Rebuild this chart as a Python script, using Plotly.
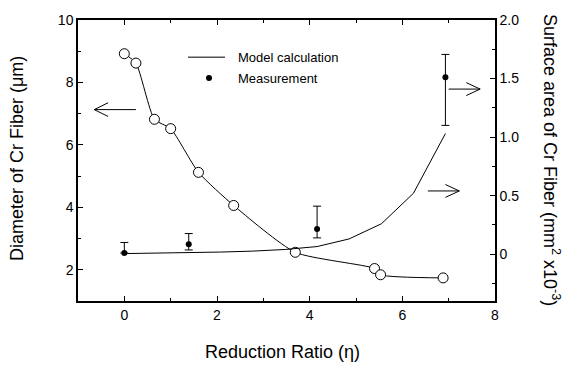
import plotly.graph_objects as go

# Diameter (left axis), open circles + model curve
diam_x = [0, 0.25, 0.65, 1.0, 1.6, 2.36, 3.69, 5.40, 5.53, 6.88]
diam_y = [8.92, 8.62, 6.82, 6.52, 5.12, 4.06, 2.56, 2.04, 1.84, 1.74]

# Surface area model (right axis)
area_model_x = [0, 0.69, 1.39, 2.08, 2.77, 3.47, 4.16, 4.85, 5.55, 6.24, 6.93]
area_model_y = [0.005, 0.008, 0.012, 0.018, 0.026, 0.04, 0.065, 0.13, 0.26, 0.52, 1.03]

# Measurements (right axis) with asymmetric error bars
meas_x = [0, 1.39, 4.16, 6.93]
meas_y = [0.01, 0.084, 0.214, 1.51]
meas_err_plus = [0.09, 0.092, 0.196, 0.196]
meas_err_minus = [0.0, 0.048, 0.075, 0.41]

x_ticks = [0, 2, 4, 6, 8]
y2_ticks = [0, 0.5, 1.0, 1.5, 2.0]
y2_labels = ["0", "0.5", "1.0", "1.5", "2.0"]

FONT = "Liberation Sans, Arial, sans-serif"

# plot-area pixel geometry
L, R, T, B = 78, 495, 14, 301
PW, PH = R - L, B - T

def px(xp):
    return (xp - L) / PW

def py(yp):
    return (B - yp) / PH

fig = go.Figure()

fig.add_trace(go.Scatter(
    x=diam_x, y=diam_y, mode="lines", line=dict(color="black", width=1, shape="spline", smoothing=0.6),
    showlegend=False, yaxis="y"))
fig.add_trace(go.Scatter(
    x=diam_x, y=diam_y, mode="markers",
    marker=dict(symbol="circle", size=10, color="white", line=dict(color="black", width=1)),
    showlegend=False, yaxis="y"))

fig.add_trace(go.Scatter(
    x=area_model_x, y=area_model_y, mode="lines", name="Model calculation",
    line=dict(color="black", width=1), yaxis="y2", showlegend=False))

fig.add_trace(go.Scatter(
    x=meas_x, y=meas_y, mode="markers", name="Measurement",
    marker=dict(symbol="circle", size=6, color="black"),
    error_y=dict(type="data", symmetric=False, array=meas_err_plus, arrayminus=meas_err_minus,
                 color="black", thickness=1, width=4),
    yaxis="y2", showlegend=False))

# Legend drawn manually
legend_items = ["Model calculation", "Measurement"]
fig.add_shape(type="line", xref="paper", yref="paper",
              x0=px(188), x1=px(225), y0=py(52), y1=py(52),
              line=dict(color="#555555", width=1.5))
fig.add_trace(go.Scatter(x=[px(209)], y=[py(73.3)], xaxis="x2", yaxis="y3",
                         mode="markers", marker=dict(size=6, color="black"), showlegend=False,
                         hoverinfo="skip"))
for i, t in enumerate(legend_items):
    fig.add_annotation(text=t, xref="paper", yref="paper", x=px(236),
                       y=py(52 + 21.3 * i), xanchor="left", yanchor="middle",
                       showarrow=False, font=dict(size=13, color="black", family=FONT))

# Arrows (open V heads)
def arrow(x_tail, x_head, y, yref, hx, hy):
    d = 1 if x_head > x_tail else -1
    path = (f"M {x_tail},{y} L {x_head},{y} "
            f"M {x_head - d*hx},{y + hy} L {x_head},{y} L {x_head - d*hx},{y - hy}")
    fig.add_shape(type="path", path=path, xref="x", yref=yref, line=dict(color="black", width=1))

arrow(0.25, -0.65, 7.13, "y", 0.3, 0.22)
arrow(7.0, 7.68, 1.41, "y2", 0.3, 0.055)
arrow(6.55, 7.23, 0.54, "y2", 0.3, 0.055)

fig.update_layout(
    width=566, height=367,
    margin=dict(l=L, r=566 - R, t=T, b=367 - B),
    paper_bgcolor="white", plot_bgcolor="white",
    font=dict(family=FONT, size=14, color="black"),
    showlegend=False,
    xaxis=dict(range=[-1, 8], tickvals=x_ticks, ticks="inside", ticklen=5,
               tickcolor="black", showline=True, linecolor="black", linewidth=1.5, mirror="ticks",
               showgrid=False, zeroline=False,
               minor=dict(dtick=1, tick0=0, ticks="inside", ticklen=3, tickcolor="black", showgrid=False),
               tickfont=dict(size=14)),
    yaxis=dict(range=[1, 10], tick0=0, dtick=2, ticks="inside", ticklen=5, tickcolor="black",
               showline=True, linecolor="black", linewidth=1.5, mirror=False,
               showgrid=False, zeroline=False,
               minor=dict(dtick=1, tick0=0, ticks="inside", ticklen=3, tickcolor="black", showgrid=False),
               tickfont=dict(size=14)),
    yaxis2=dict(range=[-0.4, 2.0], overlaying="y", side="right", tickvals=y2_ticks, ticktext=y2_labels,
                ticks="inside", ticklen=5, tickcolor="black", showline=True, linecolor="black",
                linewidth=1.5, showgrid=False, zeroline=False,
                minor=dict(dtick=0.25, tick0=0, ticks="inside", ticklen=3, tickcolor="black", showgrid=False),
                tickfont=dict(size=14)),
    xaxis2=dict(range=[0, 1], overlaying="x", visible=False),
    yaxis3=dict(range=[0, 1], overlaying="y", visible=False),
)

# Axis titles
fig.add_annotation(text="Reduction Ratio (η)", xref="paper", yref="paper", x=px(282), y=py(353),
                   showarrow=False, xanchor="center", yanchor="middle",
                   font=dict(size=18, color="black", family=FONT))
fig.add_annotation(text="Diameter of Cr Fiber (μm)", xref="paper", yref="paper", x=px(17), y=py(156),
                   textangle=-90, showarrow=False, xanchor="center", yanchor="middle",
                   font=dict(size=18, color="black", family=FONT))
fig.add_annotation(text="Surface area of Cr Fiber (mm<sup>2</sup> x10<sup>-3</sup>)",
                   xref="paper", yref="paper", x=px(552), y=py(157),
                   textangle=90, showarrow=False, xanchor="center", yanchor="middle",
                   font=dict(size=18, color="black", family=FONT))

fig.write_html("out.html", config={"displayModeBar": False},
               post_script="document.body.style.margin='0px';")
